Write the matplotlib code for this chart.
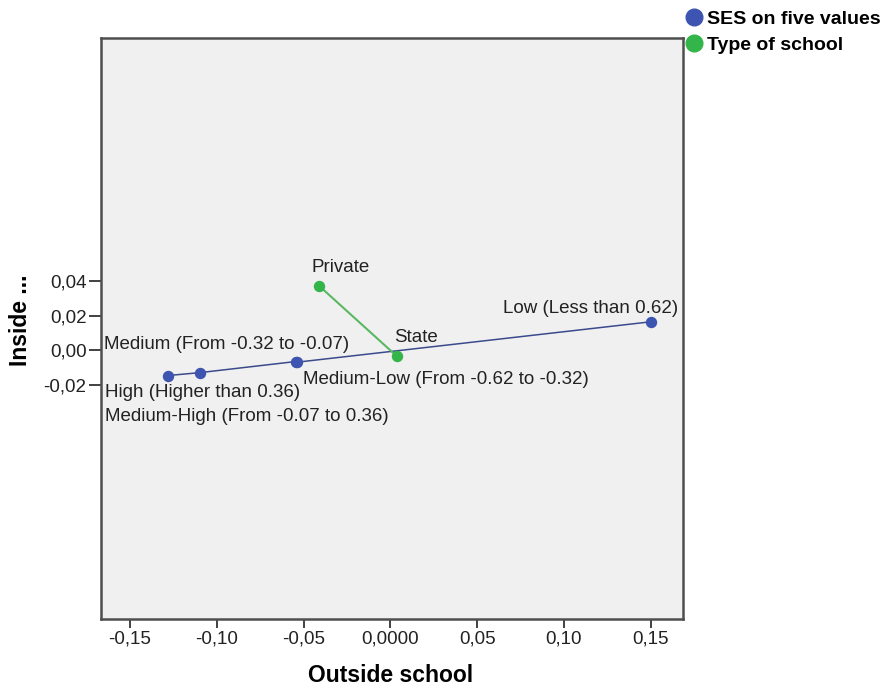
import matplotlib
matplotlib.use("Agg")
import matplotlib.pyplot as plt
from matplotlib.lines import Line2D

# ---- data ----
ses_labels = ["Low (Less than 0.62)", "Medium-Low (From -0.62 to -0.32)",
              "Medium (From -0.32 to -0.07)", "Medium-High (From -0.07 to 0.36)",
              "High (Higher than 0.36)"]
ses_x = [0.1499, -0.0539, -0.0545, -0.1097, -0.1283]
ses_y = [0.0164, -0.0069, -0.0065, -0.0129, -0.0146]

school_labels = ["Private", "State"]
school_x = [-0.0410, 0.0036]
school_y = [0.0371, -0.0033]

x_ticks = [-0.15, -0.10, -0.05, 0.0, 0.05, 0.10, 0.15]
x_ticklabels = ["-0,15", "-0,10", "-0,05", "0,0000", "0,05", "0,10", "0,15"]
y_ticks = [-0.02, 0.0, 0.02, 0.04]
y_ticklabels = ["-0,02", "0,00", "0,02", "0,04"]

series_names = ["SES on five values", "Type of school"]

# ---- style ----
plt.rcParams['font.family'] = ['Liberation Sans', 'DejaVu Sans']
blue = '#3D55B0'
blue_line = '#3A4A8C'
green = '#33B549'
green_line = '#5AB862'
fs = 13.5

fig = plt.figure(figsize=(8.84, 6.91), dpi=100)
W, H = 884, 691
ax = fig.add_axes([101 / W, 1 - 619 / H, (683 - 101) / W, (619 - 38) / H])
ax.set_facecolor('#F0F0F0')
ax.set_xlim(-0.1667, 0.1686)
ax.set_ylim(-0.1550, 0.1801)

ax.plot(ses_x, ses_y, color=blue_line, lw=1.1, zorder=2)
ax.plot(school_x, school_y, color=green_line, lw=1.5, zorder=3)
ax.plot(ses_x, ses_y, linestyle='none', marker='o', ms=7.2, color=blue, zorder=4)
ax.plot(school_x, school_y, linestyle='none', marker='o', ms=7.2, color=green, zorder=5)

# label offsets in pixels (text placement)
ses_offsets = [(28, 13.5, 'right'), (6, -17, 'left'), (-192, 17, 'left'),
               (-95, -44, 'left'), (-63, -17, 'left')]
school_offsets = [(-7.6, 18.7, 'left'), (-2.4, 18.7, 'left')]

for lab, x, y, (dx, dy, ha) in zip(ses_labels, ses_x, ses_y, ses_offsets):
    ax.annotate(lab, (x, y), xytext=(dx, dy), textcoords='offset pixels',
                ha=ha, va='center', fontsize=fs, color='#222222', zorder=6)
for lab, x, y, (dx, dy, ha) in zip(school_labels, school_x, school_y, school_offsets):
    ax.annotate(lab, (x, y), xytext=(dx, dy), textcoords='offset pixels',
                ha=ha, va='center', fontsize=fs, color='#222222', zorder=6)

ax.set_xticks(x_ticks)
ax.set_xticklabels(x_ticklabels, fontsize=fs, color='#222222')
ax.set_yticks(y_ticks)
ax.set_yticklabels(y_ticklabels, fontsize=fs, color='#222222')
ax.tick_params(axis='x', direction='out', length=6.5, width=1.3, pad=2, color='#333333')
ax.tick_params(axis='y', direction='out', length=8.5, width=1.3, pad=2, color='#333333')

for s in ax.spines.values():
    s.set_color('#4F4F4F')
    s.set_linewidth(1.8)

ax.set_xlabel("Outside school", fontsize=16.5, fontweight='bold', va='top')
ax.xaxis.set_label_coords(0.497, -0.078)
ax.set_ylabel("Inside ...", fontsize=16.5, fontweight='bold', va='center')
ax.yaxis.set_label_coords(-0.139, 0.515)

handles = [Line2D([], [], linestyle='none', marker='o', ms=12, color=blue),
           Line2D([], [], linestyle='none', marker='o', ms=12, color=green)]
fig.legend(handles, series_names, loc='upper left',
           bbox_to_anchor=(677 / W, 1 - 0 / H), frameon=False,
           prop={'size': 14, 'weight': 'bold'}, handlelength=0.7,
           handletextpad=0.3, labelspacing=0.42, borderpad=0.05)

fig.savefig("out.png", dpi=100)
